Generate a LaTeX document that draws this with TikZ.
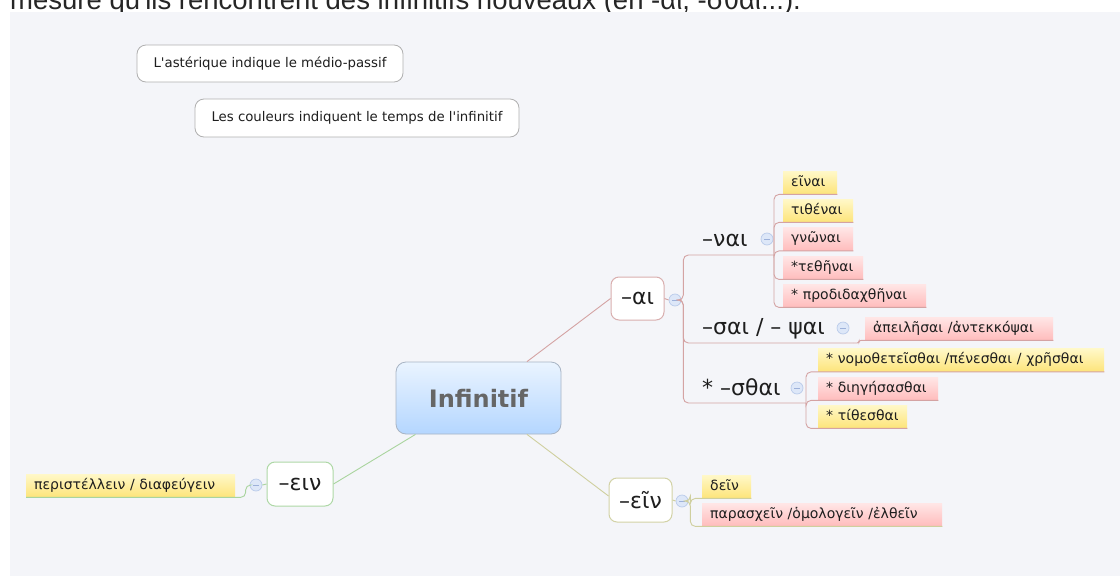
\documentclass[tikz,border=0pt]{standalone}
\usepackage{fontspec}
\setmainfont{DejaVu Sans}
\newfontfamily\plainfont{DejaVu Sans}
\newfontfamily\topfont{Liberation Sans}
\usetikzlibrary{calc}
\definecolor{bg}{HTML}{F4F5F9}
\definecolor{ytop}{HTML}{FFF8C8}
\definecolor{ybot}{HTML}{FDE47A}
\definecolor{rtop}{HTML}{FFE6E6}
\definecolor{rbot}{HTML}{FFBCBC}
\definecolor{cred}{HTML}{D4A3A3}
\definecolor{colive}{HTML}{CFCF9E}
\definecolor{cgreen}{HTML}{A9D49E}
\definecolor{aibord}{HTML}{D9AFAF}
\definecolor{eibord}{HTML}{D2D2A6}
\definecolor{eebord}{HTML}{AED8A6}
\definecolor{ctop}{HTML}{EAF4FF}
\definecolor{cbot}{HTML}{B4D6FF}
\definecolor{cbord}{HTML}{A8B4C4}
\definecolor{ctext}{HTML}{666666}
\definecolor{collf}{HTML}{DDE7F8}
\definecolor{collb}{HTML}{BACBEA}
\definecolor{collm}{HTML}{9DB1DA}
\definecolor{notegray}{HTML}{B0B0B0}
\definecolor{txt}{HTML}{1E1E1E}
\tikzset{
  note/.style={draw=notegray, fill=white, rounded corners=9pt, line width=0.8pt,
    inner sep=0pt, font=\plainfont\fontsize{13.3}{16}\selectfont, text=txt},
  topic/.style={fill=white, rounded corners=8pt, line width=1pt, inner sep=0pt,
    font=\fontsize{22}{25}\selectfont, text=txt},
  sub/.style={font=\fontsize{22}{25}\selectfont, inner sep=0pt, anchor=west, text=txt},
  leafbase/.style={anchor=north west, minimum height=23pt, inner xsep=8pt, inner ysep=0pt,
    text height=10.5pt, text depth=3.5pt, align=left, text=txt,
    font=\fontsize{14}{16}\selectfont},
  leafy/.style={leafbase, top color=ytop, bottom color=ybot},
  leafr/.style={leafbase, top color=rtop, bottom color=rbot},
  coll/.style={circle, draw=collb, fill=collf, minimum size=12pt, inner sep=0pt, line width=0.7pt,
    path picture={\draw[collm, line width=0.8pt] ([xshift=-3pt]path picture bounding box.center) -- ([xshift=3pt]path picture bounding box.center);}},
  conn/.style={line width=0.9pt, rounded corners=5pt}
}
\begin{document}
\begin{tikzpicture}[x=1pt,y=-1pt]
\useasboundingbox (0,0) rectangle (1120,576);
\fill[white] (0,0) rectangle (1120,576);
\fill[bg] (10,12) rectangle (1120,576);
\begin{scope}
  \clip (0,0) rectangle (1120,11.5);
  \node[anchor=base west, inner sep=0pt, font=\topfont\fontsize{27.5}{32}\selectfont, text=black!85] (cut) at (10,9) {mesure qu'ils rencontrent des infinitifs nouveaux (en -αι, -σθαι...).};
\end{scope}

% notes
\node[note, minimum width=266, minimum height=37] (note1) at (270,63.5) {L'astérique indique le médio-passif};
\node[note, minimum width=324, minimum height=38] (note2) at (357,118) {Les couleurs indiquent le temps de l'infinitif};

% central
\node[draw=cbord, top color=ctop, bottom color=cbot, rounded corners=10pt, line width=0.8pt,
  minimum width=165, minimum height=72, inner sep=0pt, text=ctext,
  font=\bfseries\fontsize{24}{28}\selectfont] (c) at (478.5,398) {Infinitif};

% main topics
\node[topic, draw=aibord, minimum width=53, minimum height=43] (ai) at (637.5,298.5) {–αι};
\node[topic, draw=eibord, minimum width=63, minimum height=44] (ei) at (640.5,500) {–εῖν};
\node[topic, draw=eebord, minimum width=66, minimum height=44] (ee) at (300,484) {–ειν};

% subtopics
\node[sub] (nai) at (702,240) {–ναι};
\node[sub] (sai) at (702,329) {–σαι / – ψαι};
\node[sub] (sth) at (702,387) {* –σθαι};

% leaves
\node[leafy, text width=38] (n1) at (783,171) {εῖναι};
\node[leafy, text width=54] (n2) at (783,199) {τιθέναι};
\node[leafr, text width=54] (n3) at (783,227.5) {γνῶναι};
\node[leafr, text width=64] (n4) at (783,256) {*τεθῆναι};
\node[leafr, text width=127] (n5) at (783,284) {* προδιδαχθῆναι};
\node[leafr, text width=172] (s1) at (865,317) {ἀπειλῆσαι /ἀντεκκόψαι};
\node[leafy, text width=270] (t1) at (818,348.5) {* νομοθετεῖσθαι /πένεσθαι / χρῆσθαι};
\node[leafr, text width=104] (t2) at (818,377) {* διηγήσασθαι};
\node[leafy, text width=73] (t3) at (818,405) {* τίθεσθαι};
\node[leafy, text width=33] (d1) at (702,475) {δεῖν};
\node[leafr, text width=224] (d2) at (702,503) {παρασχεῖν /ὁμολογεῖν /ἐλθεῖν};
\node[leafy, text width=193] (e1) at (26,474) {περιστέλλειν / διαφεύγειν};

% collapse circles
\node[coll] (aic) at (675,300) {};
\node[coll] (naic) at (767,239) {};
\node[coll] (saic) at (843,328) {};
\node[coll] (sthc) at (797,388) {};
\node[coll] (eic) at (682,501) {};
\node[coll] (eec) at (256,485) {};

% junctions
\coordinate (naij) at (774,255);
\coordinate (saij) at (853,343);
\coordinate (sthj) at (806,403);

% connectors
\draw[conn, cred] ($(c.north)+(48.5,0)$) -- (ai.west);
\draw[conn, colive] ($(c.south)+(48.5,0)$) -- ($(ei.west)+(0,-4)$);
\draw[conn, cgreen] ($(c.south)+(-63,0)$) -- (ee.east);

\draw[conn, cred] (ai.east) -- (aic.west);
\draw[conn, colive] (ei.east) -- (eic.west);
\draw[conn, cgreen] (ee.west) -- (eec.east);

\draw[conn, cred] (aic.east) -- ++(2,0) |- (naij);
\draw[conn, cred] (aic.east) -- ++(2,0) |- (saij);
\draw[conn, cred] (aic.east) -- ++(2,0) |- (sthj);

\foreach \n in {n1,n2,n3,n4,n5}
  \draw[conn, cred] (naij) |- (\n.south east);
\draw[conn, cred, rounded corners=2pt] (saij) -- ++(6,0) |- (s1.south east);
\foreach \n in {t1,t2,t3}
  \draw[conn, cred] (sthj) |- (\n.south east);

\draw[conn, colive] (eic.east) -- ++(2,0) |- (d1.south east);
\draw[conn, colive] (eic.east) -- ++(2,0) |- (d2.south east);
\draw[conn, cgreen] (eec.west) -- ++(-4,0) |- (e1.south west);
\end{tikzpicture}
\end{document}
